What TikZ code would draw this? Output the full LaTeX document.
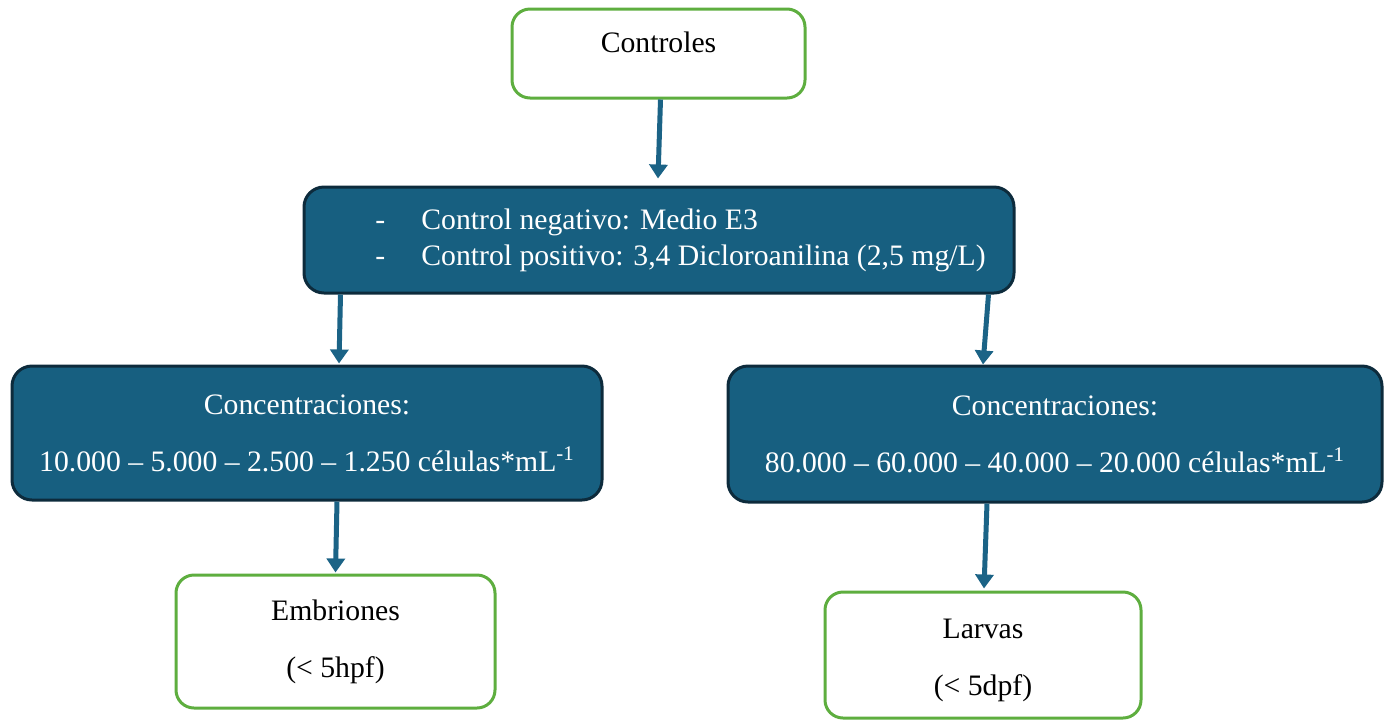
\documentclass[tikz,border=0pt]{standalone}
\usepackage{fontspec}
\setmainfont{Liberation Serif}
\usetikzlibrary{arrows.meta, positioning}
\definecolor{boxblue}{HTML}{175F80}
\definecolor{edgeblue}{HTML}{0D2B3C}
\definecolor{arrowblue}{HTML}{1B6386}
\definecolor{boxgreen}{HTML}{5EAE3F}

\begin{document}
\begin{tikzpicture}[x=0.5pt, y=-0.5pt,
    greenbox/.style={draw=boxgreen, line width=1.5pt, fill=white, rounded corners=9pt, inner sep=0pt, align=center},
    bluebox/.style={draw=edgeblue, line width=1.5pt, fill=boxblue, text=white, rounded corners=10pt, inner sep=0pt, align=center},
    flow/.style={draw=arrowblue, line width=2.5pt, -{Triangle[length=7pt, width=9pt]}}]
    \tikzstyle{every node}+=[font=\fontsize{14.85pt}{18pt}\selectfont]
    \useasboundingbox (0,0) rectangle (1387,719);
    \node [greenbox, minimum width=146.5pt, minimum height=44.5pt] (ctrl) at (658.5,53.5) {\raisebox{5.75pt}[\height][\depth]{Controles}};
    \node [bluebox, align=left, minimum width=355pt, minimum height=53pt] (neg) at (659,240)
        {\hspace*{21.5pt}\makebox[23pt][l]{-}Control negativo: Medio E3\\
         \hspace*{21.5pt}\makebox[23pt][l]{-}Control positivo: 3,4 Dicloroanilina (2,5 mg/L)};
    \node [bluebox, minimum width=295pt, minimum height=67pt] (lconc) at (307,433)
        {Concentraciones:\\[10.5pt] 10.000 -- 5.000 -- 2.500 -- 1.250 células*mL\textsuperscript{-1}};
    \node [bluebox, minimum width=327pt, minimum height=68pt] (rconc) at (1055,434)
        {Concentraciones:\\[10.5pt] 80.000 -- 60.000 -- 40.000 -- 20.000 células*mL\textsuperscript{-1}};
    \node [greenbox, minimum width=159.5pt, minimum height=66.5pt] (emb) at (335.5,641.5)
        {Embriones\\[10.5pt] (< 5hpf)};
    \node [greenbox, minimum width=158pt, minimum height=63pt] (larv) at (983,655)
        {\raisebox{-3pt}[\height][\depth]{Larvas}\\[11pt] \raisebox{-2.5pt}[\height][\depth]{(< 5dpf)}};
    % connectors
    \draw [flow] ([xshift=1pt]ctrl.south) -- ([xshift=-0.5pt, yshift=3.5pt]neg.north);
    \draw [flow] ([xshift=19pt]neg.south west) -- ([xshift=16pt, yshift=0.5pt]lconc.north);
    \draw [flow] ([xshift=-13.5pt]neg.south east) -- ([xshift=-36pt]rconc.north);
    \draw [flow] ([xshift=15pt]lconc.south) -- ([yshift=0.5pt]emb.north);
    \draw [flow] ([xshift=-34pt]rconc.south) -- ([xshift=0.5pt, yshift=1pt]larv.north);
\end{tikzpicture}
\end{document}
